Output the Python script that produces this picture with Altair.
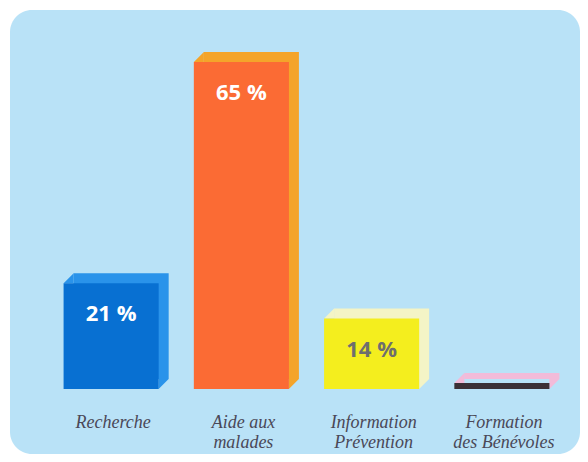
import altair as alt
import pandas as pd

categories = ["Recherche", "Aide aux malades", "Information Prévention", "Formation des Bénévoles"]
labels = ["Recherche", "Aide aux\nmalades", "Information\nPrévention", "Formation\ndes Bénévoles"]
values = [21, 65, 14, 1.2]
value_text = ["21 %", "65 %", "14 %", ""]
front_colors = ["#0870d2", "#fb6b34", "#f4ee1e", "#3b3036"]
side_colors = ["#2a93ea", "#f4a42a", "#f4f4c6", "#f2bbd9"]
text_colors = ["#ffffff", "#ffffff", "#6e6e6e", "#ffffff"]

df = pd.DataFrame({
    "cat": categories,
    "label": labels,
    "value": values,
    "vtext": value_text,
    "front": front_colors,
    "side": side_colors,
    "tcol": text_colors,
})

x = alt.X("cat:N", sort=categories, axis=None,
          scale=alt.Scale(range=[36, 557], paddingInner=0.27, paddingOuter=0.135))
yscale = alt.Scale(domain=[0, 65], range=[379, 52], nice=False, zero=True)
y = alt.Y("value:Q", axis=None, scale=yscale)

base = alt.Chart(df)

back = base.mark_bar(xOffset=10, x2Offset=10, yOffset=-10, y2Offset=-10).encode(
    x=x, y=y, color=alt.Color("side:N", scale=None))

tri_tl = base.mark_point(shape="M-1,1L1,-1L1,1Z", size=100, filled=True, opacity=1,
                         xOffset=-42.5, yOffset=-5, strokeWidth=0).encode(
    x=x, y=y, color=alt.Color("side:N", scale=None))

tri_br = base.mark_point(shape="M-1,-1L-1,1L1,-1Z", size=100, filled=True, opacity=1,
                         xOffset=52.5, yOffset=-5, strokeWidth=0).encode(
    x=x, y=alt.Y("zero:Q", axis=None, scale=yscale),
    color=alt.Color("side:N", scale=None)).transform_calculate(zero="0")

front = base.mark_bar().encode(x=x, y=y, color=alt.Color("front:N", scale=None))

vtext = base.mark_text(font="Open Sans", fontWeight="bold", fontSize=22,
                       baseline="middle", yOffset=31).encode(
    x=x, y=y, text="vtext:N", color=alt.Color("tcol:N", scale=None))

ctext = base.mark_text(font="Liberation Serif", fontStyle="italic", fontSize=18,
                       baseline="alphabetic", lineBreak="\n", lineHeight=20,
                       color="#4a4858", dx=2).encode(
    x=x, y=alt.value(418), text="label:N")

chart = alt.layer(back, tri_tl, tri_br, front, vtext, ctext).properties(
    width=570, height=444,
    autosize=alt.AutoSizeParams(type="none"),
    padding={"left": 2, "top": 2, "right": 0, "bottom": 0},
    background="#ffffff",
).configure_view(fill="#b9e2f7", stroke=None, cornerRadius=22)

chart.save("out.html", embed_options={"renderer": "svg", "actions": False})
